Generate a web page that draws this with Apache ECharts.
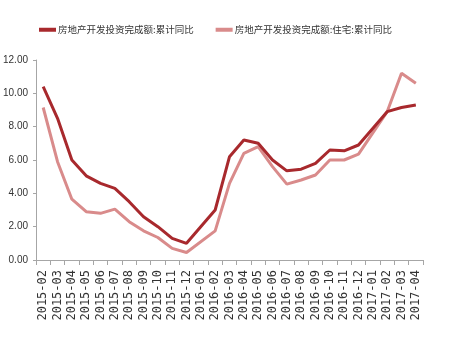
<!DOCTYPE html>
<html><head><meta charset="utf-8">
<script src="https://cdn.jsdelivr.net/npm/echarts@6/dist/echarts.min.js"></script>
<style>html,body{margin:0;padding:0;background:#fff}#c{width:451px;height:344px}</style>
</head><body><div id="c"></div>
<script>
const categories = ['2015-02','2015-03','2015-04','2015-05','2015-06','2015-07','2015-08','2015-09','2015-10','2015-11','2015-12',
 '2016-01','2016-02','2016-03','2016-04','2016-05','2016-06','2016-07','2016-08','2016-09','2016-10','2016-11','2016-12',
 '2017-01','2017-02','2017-03','2017-04'];
const seriesNames = ['房地产开发投资完成额:累计同比','房地产开发投资完成额:住宅:累计同比'];
const totalValues = [10.4,8.5,6.0,5.05,4.6,4.3,3.5,2.6,2.0,1.3,1.0,
 null,3.0,6.2,7.2,7.0,6.0,5.35,5.45,5.8,6.6,6.55,6.9,
 null,8.9,9.15,9.3];
const residentialValues = [9.15,5.9,3.65,2.9,2.8,3.05,2.3,1.75,1.35,0.7,0.45,
 null,1.75,4.6,6.4,6.8,5.6,4.55,4.8,5.1,6.0,6.0,6.35,
 null,8.9,11.2,10.6];
const yTicks = {min:0,max:12,interval:2};

const chart = echarts.init(document.getElementById('c'));
chart.setOption({
  animation:false,
  backgroundColor:'#fff',
  legend:{
    left:34, top:20, width:420, icon:'rect', itemWidth:17, itemHeight:4, itemGap:22,
    textStyle:{fontFamily:'Noto Sans CJK SC',fontSize:9.5,color:'#333',padding:[0,0,0,-3]},
    data:seriesNames
  },
  grid:{left:32,right:28,top:60,bottom:84},
  xAxis:{
    type:'category', data:categories, boundaryGap:true,
    axisLine:{lineStyle:{color:'#a6a6a6',width:1}},
    axisTick:{show:true,length:5,lineStyle:{color:'#a6a6a6'}},
    axisLabel:{interval:0,rotate:90,margin:10,fontFamily:'DejaVu Sans Mono',fontSize:12,color:'#333'}
  },
  yAxis:{
    type:'value', min:yTicks.min, max:yTicks.max, interval:yTicks.interval,
    splitLine:{show:false},
    axisLine:{show:true,lineStyle:{color:'#a6a6a6'}},
    axisTick:{show:true,length:3,lineStyle:{color:'#a6a6a6'}},
    axisLabel:{margin:8,fontFamily:'Liberation Sans Narrow, Arial Narrow, Liberation Sans',fontSize:10,color:'#333',
      formatter:v=>v.toFixed(2)}
  },
  series:[
    {name:seriesNames[0],type:'line',data:totalValues,connectNulls:true,symbol:'none',
     lineStyle:{color:'#a8292d',width:3},itemStyle:{color:'#a8292d'},z:3},
    {name:seriesNames[1],type:'line',data:residentialValues,connectNulls:true,symbol:'none',
     lineStyle:{color:'#d98b8b',width:3},itemStyle:{color:'#d98b8b'},z:2}
  ]
});
</script></body></html>
